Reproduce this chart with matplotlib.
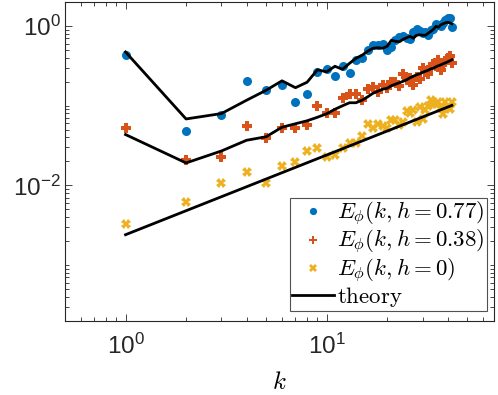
import numpy as np
import matplotlib
matplotlib.use("Agg")
import matplotlib.pyplot as plt
from matplotlib.ticker import LogLocator, NullFormatter

plt.rcParams["font.family"] = ["Liberation Sans", "DejaVu Sans"]
plt.rcParams["mathtext.fontset"] = "cm"

k = np.arange(1, 43)

# measured spectra
e_077 = [0.438, 0.0487, 0.0758, 0.202, 0.159, 0.183, 0.111, 0.139, 0.266, 0.292,
         0.237, 0.317, 0.259, 0.371, 0.399, 0.496, 0.581, 0.573, 0.589, 0.503,
         0.540, 0.662, 0.721, 0.743, 0.701, 0.691, 0.834, 0.922, 0.858, 0.810,
         0.834, 0.765, 0.883, 0.909, 1.05, 1.02, 0.991, 1.08, 1.18, 1.25,
         1.27, 0.977]
e_038 = [0.0531, 0.0207, 0.0225, 0.0551, 0.0390, 0.0525, 0.0528, 0.0568, 0.0983, 0.0814,
         0.0803, 0.125, 0.142, 0.141, 0.117, 0.161, 0.170, 0.147, 0.180, 0.165,
         0.197, 0.198, 0.175, 0.253, 0.208, 0.221, 0.180, 0.230, 0.214, 0.295,
         0.262, 0.248, 0.303, 0.331, 0.312, 0.371, 0.278, 0.340, 0.350, 0.393,
         0.423, 0.340]
e_0 = [0.00328, 0.00626, 0.0106, 0.0145, 0.0108, 0.0174, 0.0197, 0.0270, 0.0298, 0.0229,
       0.0239, 0.0296, 0.0340, 0.0337, 0.0413, 0.0593, 0.0521, 0.0593, 0.0551, 0.0521,
       0.0669, 0.0665, 0.0568, 0.0628, 0.0858, 0.0803, 0.0876, 0.0624, 0.0969, 0.0689,
       0.0876, 0.0983, 0.117, 0.104, 0.106, 0.110, 0.0928, 0.0796, 0.111, 0.0963,
       0.0920, 0.111]

# theory curves
th_077 = [0.472, 0.0681, 0.0796, 0.117, 0.156, 0.205, 0.168, 0.197, 0.282, 0.266,
          0.312, 0.286, 0.340, 0.393, 0.429, 0.482, 0.525, 0.533, 0.525, 0.556,
          0.662, 0.643, 0.634, 0.681, 0.711, 0.743, 0.701, 0.765, 0.776, 0.765,
          0.765, 0.810, 0.858, 0.909, 0.991, 0.963, 1.035, 1.066, 1.097, 1.113,
          1.097, 1.066]
th_038 = [0.0434, 0.0191, 0.0270, 0.0368, 0.0407, 0.0536, 0.0593, 0.0646, 0.0715, 0.0791,
          0.0901, 0.0997, 0.1088, 0.1088, 0.117, 0.129, 0.143, 0.152, 0.161, 0.165,
          0.178, 0.186, 0.194, 0.202, 0.211, 0.224, 0.234, 0.244, 0.251, 0.262,
          0.270, 0.278, 0.290, 0.295, 0.308, 0.317, 0.326, 0.336, 0.345, 0.355,
          0.366, 0.377]
th_0 = [0.0024, 0.0048, 0.0072, 0.0096, 0.0120, 0.0144, 0.0168, 0.0192, 0.0216, 0.0240,
        0.0264, 0.0288, 0.0312, 0.0336, 0.0360, 0.0384, 0.0408, 0.0432, 0.0456, 0.0480,
        0.0504, 0.0528, 0.0552, 0.0576, 0.0600, 0.0624, 0.0648, 0.0672, 0.0696, 0.0720,
        0.0744, 0.0768, 0.0792, 0.0816, 0.0840, 0.0864, 0.0888, 0.0912, 0.0936, 0.0960,
        0.0984, 0.1008]

labels = [r"$E_\phi(k,h=0.77)$", r"$E_\phi(k,h=0.38)$", r"$E_\phi(k,h=0)$", r"$\mathrm{theory}$"]

blue = "#0072BD"
orange = "#D95319"
yellow = "#EDB120"
axcol = "#262626"

fig = plt.figure(figsize=(4.98, 3.95), dpi=100)
ax = fig.add_axes([65/498, 1-320.7/395, (494-65)/498, (320.7-2)/395])

ax.plot(k, e_077, "o", color=blue, ms=6.5, mew=0, label=labels[0])
ax.plot(k, e_038, "P", color=orange, ms=7, mew=0, label=labels[1])
ax.plot(k, e_0, "X", color=yellow, ms=7, mew=0, label=labels[2])
ax.plot(k, th_077, "-", color="black", lw=2, label=labels[3])
ax.plot(k, th_038, "-", color="black", lw=2)
ax.plot(k, th_0, "-", color="black", lw=2)

ax.set_xscale("log")
ax.set_yscale("log")
ax.set_xlim(0.5, 68)
ax.set_ylim(2e-4, 2)

ax.set_xticks([1, 10])
ax.set_xticklabels([r"$\mathregular{10^{0}}$", r"$\mathregular{10^{1}}$"])
ax.set_yticks([1e-2, 1])
ax.set_yticklabels([r"$\mathregular{10^{-2}}$", r"$\mathregular{10^{0}}$"])
ax.xaxis.set_minor_locator(LogLocator(base=10, subs=np.arange(1, 10), numticks=20))
ax.yaxis.set_minor_locator(LogLocator(base=10, subs=np.arange(1, 10), numticks=20))
ax.xaxis.set_minor_formatter(NullFormatter())
ax.yaxis.set_minor_formatter(NullFormatter())

ax.tick_params(which="both", direction="in", top=True, right=True, color=axcol,
               labelcolor=axcol, labelsize=17.5, width=0.6)
ax.tick_params(which="major", length=5)
ax.tick_params(which="minor", length=3)
ax.tick_params(axis="x", pad=9)
ax.tick_params(axis="y", pad=3)
for s in ax.spines.values():
    s.set_color(axcol)
    s.set_linewidth(0.8)

ax.set_xlabel(r"$k$", fontsize=18, labelpad=8)

leg = ax.legend(loc="lower right", bbox_to_anchor=(0.984, 0.031), borderaxespad=0,
                fontsize=16.5, frameon=True, fancybox=False, edgecolor=axcol,
                handlelength=1.83, handletextpad=0.15, labelspacing=0.0,
                borderpad=0.1, markerscale=0.8)
leg.get_frame().set_linewidth(0.8)

fig.savefig("out.png", dpi=100)
